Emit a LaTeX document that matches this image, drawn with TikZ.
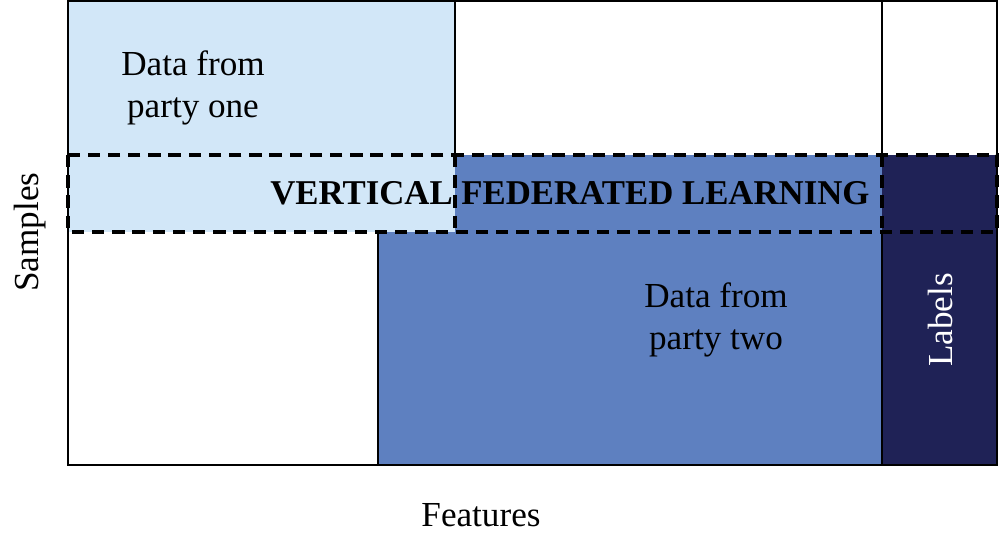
\documentclass[tikz,border=0pt]{standalone}
\usepackage{fontspec}
\setmainfont{Liberation Serif}
\definecolor{lightblue}{HTML}{D2E7F8}
\definecolor{midblue}{HTML}{5E80C0}
\definecolor{navy}{HTML}{1F2256}
\begin{document}
\begin{tikzpicture}[x=0.02cm,y=-0.02cm,
  txt/.style={font=\fontsize{20}{24}\selectfont, align=center, inner sep=0pt},
  dsh/.style={line width=1.8pt, dash pattern=on 7pt off 4.5pt},
  frame/.style={line width=1pt, draw=black}]
\useasboundingbox (0,0) rectangle (1000,545);
% fills
\fill[lightblue] (68,0) rectangle (455,232);
\fill[midblue] (378,155) rectangle (882,465);
\fill[navy] (882,155) rectangle (997,465);
\fill[lightblue] (68,155) rectangle (455,232);
% solid lines
\draw[frame] (68,465) -- (68,1) -- (997,1) -- (997,465) -- cycle;
\draw[frame] (455,1) -- (455,155);
\draw[frame] (882,1) -- (882,155);
\draw[frame] (378,232) -- (378,465);
\draw[frame] (882,232) -- (882,465);
% dashed band
\draw[dsh] (68,155) rectangle (997,232);
\draw[dsh] (455,155) -- (455,232);
\draw[dsh] (882,155) -- (882,232);
% texts
\node[txt] (one) at (193,88) {Data from\\party one};
\node[txt] (two) at (716,320) {Data from\\party two};
\node[txt, font=\fontsize{19.8}{24}\selectfont\bfseries] (vfl) at (570,193) {VERTICAL FEDERATED LEARNING};
\node[txt, text=white, rotate=90] (lab) at (940,320) {Labels};
\node[txt, rotate=90] (samp) at (30,232) {Samples};
\node[txt] (feat) at (481,515) {Features};
\end{tikzpicture}
\end{document}
